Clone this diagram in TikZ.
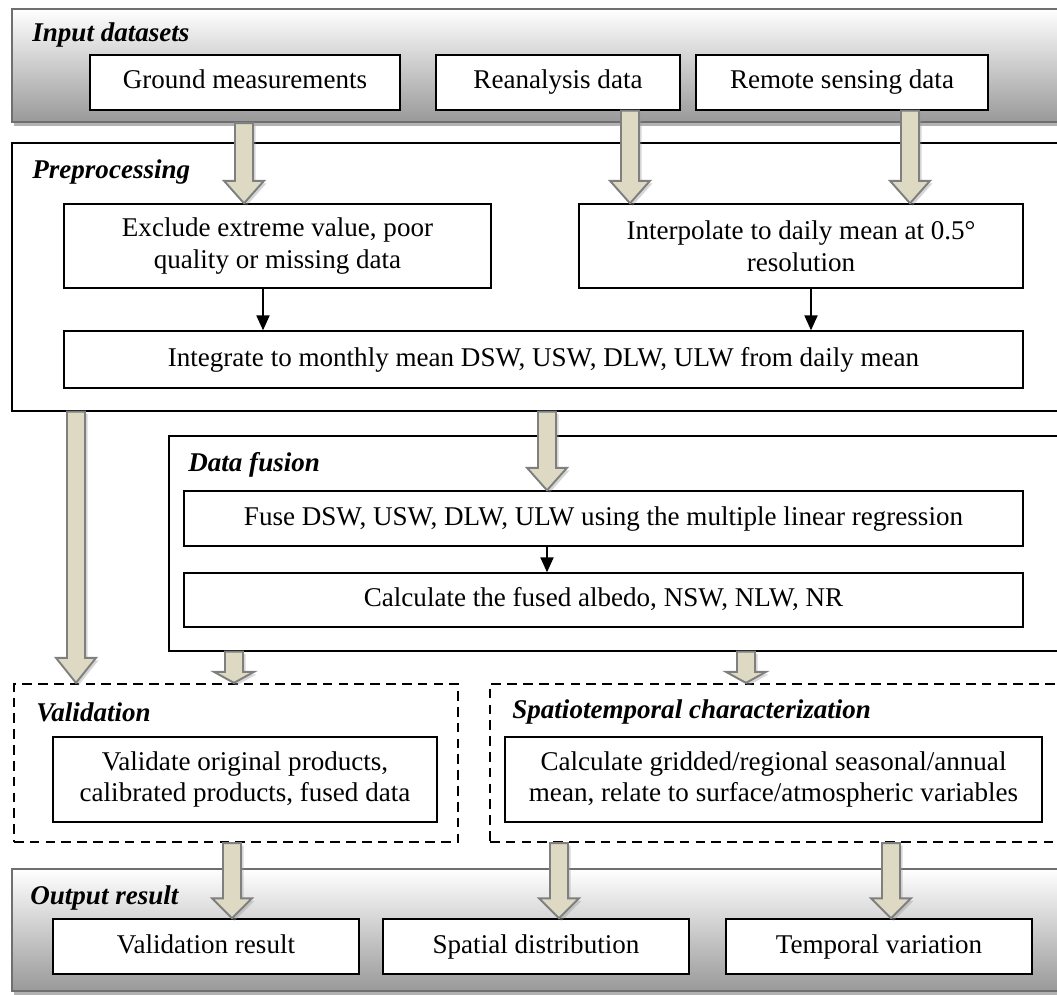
\documentclass[tikz,border=0pt]{standalone}
\usepackage{fontspec}
\setmainfont{Liberation Serif}
\usetikzlibrary{arrows.meta,calc,shadows}
\definecolor{arrowfill}{HTML}{DDD9C3}
\definecolor{arrowline}{HTML}{7F7F7F}
\definecolor{bandline}{HTML}{6F6F6F}
% block arrow going down from #2 to #3, #1 = head length in cm
\newcommand{\fatarrow}[3][0.45]{%
  \filldraw[fat] let \p1=#2, \p2=#3 in
    (\x1-0.18cm,\y1) -- (\x1-0.18cm,\y2+#1cm) -- (\x1-0.4cm,\y2+#1cm) -- (\x1,\y2)
    -- (\x1+0.4cm,\y2+#1cm) -- (\x1+0.18cm,\y2+#1cm) -- (\x1+0.18cm,\y1) -- cycle;}

\begin{document}
\begin{tikzpicture}[every node/.style={font=\fontsize{15.4}{18}\selectfont},
  band/.style={draw=bandline, line width=1.2pt, top color=white, bottom color=black!40, inner sep=0pt,
    drop shadow={shadow xshift=0.03cm, shadow yshift=-0.09cm, fill=black!30, opacity=1}},
  grp/.style={draw, line width=0.8pt, fill=white, inner sep=0pt},
  dgrp/.style={draw, line width=1.3pt, dash pattern=on 5.5pt off 3.5pt, inner sep=0pt},
  box/.style={draw, line width=0.8pt, fill=white, align=center, inner sep=2pt},
  one/.style={box, text height=10.8pt, text depth=3.4pt},
  lab/.style={anchor=west, inner sep=0pt, font=\fontsize{15.4}{18}\selectfont\bfseries\itshape},
  fat/.style={draw=arrowline, line width=1.1pt, fill=arrowfill,
    drop shadow={shadow xshift=0.05cm, shadow yshift=-0.05cm, fill=black!40, opacity=0.4}},
  link/.style={-{Triangle[width=7.5pt,length=8.5pt]}, line width=0.8pt}]
  \useasboundingbox (0,0) rectangle (21.14,19.88);
  \clip (0,0) rectangle (21.14,19.88);

  % input datasets
  \node[band, minimum width=21.06cm, minimum height=2.26cm] (inp) at (10.77,18.57) {};
  \node[lab] (inplab) at (0.64,19.18) {Input datasets};
  \node[one, minimum width=6.2cm, minimum height=1.1cm] (gm) at (4.90,18.23) {Ground measurements};
  \node[one, minimum width=4.88cm, minimum height=1.1cm] (rean) at (11.16,18.23) {Reanalysis data};
  \node[one, minimum width=5.84cm, minimum height=1.1cm] (rs) at (16.84,18.23) {Remote sensing data};

  % preprocessing
  \node[grp, minimum width=21.06cm, minimum height=5.36cm] (pre) at (10.77,14.34) {};
  \node[lab] (prelab) at (0.64,16.44) {Preprocessing};
  \node[box, minimum width=8.54cm, minimum height=1.68cm] (excl) at (5.55,14.96) {Exclude extreme value, poor\\quality or missing data};
  \node[box, minimum width=8.88cm, minimum height=1.68cm] (interp) at (16.02,14.96) {Interpolate to daily mean at 0.5°\\resolution};
  \node[one, minimum width=19.18cm, minimum height=1.14cm] (integ) at (10.87,12.69) {Integrate to monthly mean DSW, USW, DLW, ULW from daily mean};

  % data fusion
  \node[grp, minimum width=17.92cm, minimum height=4.30cm] (df) at (12.34,9.01) {};
  \node[lab] (dflab) at (3.76,10.58) {Data fusion};
  \node[one, minimum width=16.78cm, minimum height=1.1cm] (fuse) at (12.07,9.51) {Fuse DSW, USW, DLW, ULW using the multiple linear regression};
  \node[one, minimum width=16.78cm, minimum height=1.08cm] (calc) at (12.07,7.88) {Calculate the fused albedo, NSW, NLW, NR};

  % validation and spatiotemporal characterization
  \node[dgrp, minimum width=8.88cm, minimum height=3.16cm] (val) at (4.72,4.62) {};
  \node[lab] (vallab) at (0.72,5.64) {Validation};
  \node[box, minimum width=7.68cm, minimum height=1.7cm] (valbox) at (4.90,4.29) {Validate original products,\\calibrated products, fused data};
  \node[dgrp, minimum width=11.5cm, minimum height=3.16cm] (st) at (15.55,4.62) {};
  \node[lab] (stlab) at (10.24,5.64) {Spatiotemporal characterization};
  \node[box, minimum width=10.74cm, minimum height=1.7cm] (stbox) at (15.47,4.29) {Calculate gridded/regional seasonal/annual\\mean, relate to surface/atmospheric variables};

  % output result
  \node[band, minimum width=21.06cm, minimum height=2.44cm] (out) at (10.77,1.28) {};
  \node[lab] (outlab) at (0.60,1.92) {Output result};
  \node[one, minimum width=6.12cm, minimum height=1.1cm] (vr) at (4.12,0.95) {Validation result};
  \node[one, minimum width=6.12cm, minimum height=1.1cm] (sd) at (10.72,0.95) {Spatial distribution};
  \node[one, minimum width=6.12cm, minimum height=1.1cm] (tv) at (17.58,0.95) {Temporal variation};

  % thin arrows
  \draw[link] (excl.south -| 5.26,0) -- (integ.north -| 5.26,0);
  \draw[link] (interp.south -| 16.22,0) -- (integ.north -| 16.22,0);
  \draw[link] (fuse.south -| 10.94,0) -- (calc.north -| 10.94,0);

  % block arrows
  \fatarrow{(inp.south -| 4.88,0)}{(excl.north -| 4.88,0)}
  \fatarrow{(rean.south -| 12.6,0)}{(interp.north -| 12.6,0)}
  \fatarrow{(rs.south -| 18.2,0)}{(interp.north -| 18.2,0)}
  \fatarrow[0.5]{(pre.south -| 1.52,0)}{(val.north -| 1.52,0)}
  \fatarrow{(pre.south -| 10.94,0)}{(fuse.north -| 10.94,0)}
  \fatarrow[0.22]{(df.south -| 4.68,0)}{(val.north -| 4.68,0)}
  \fatarrow[0.22]{(df.south -| 14.92,0)}{(st.north -| 14.92,0)}
  \fatarrow[0.4]{(val.south -| 4.64,0)}{(vr.north -| 4.64,0)}
  \fatarrow[0.4]{(st.south -| 11.18,0)}{(sd.north -| 11.18,0)}
  \fatarrow[0.4]{(st.south -| 17.82,0)}{(tv.north -| 17.82,0)}
\end{tikzpicture}
\end{document}
